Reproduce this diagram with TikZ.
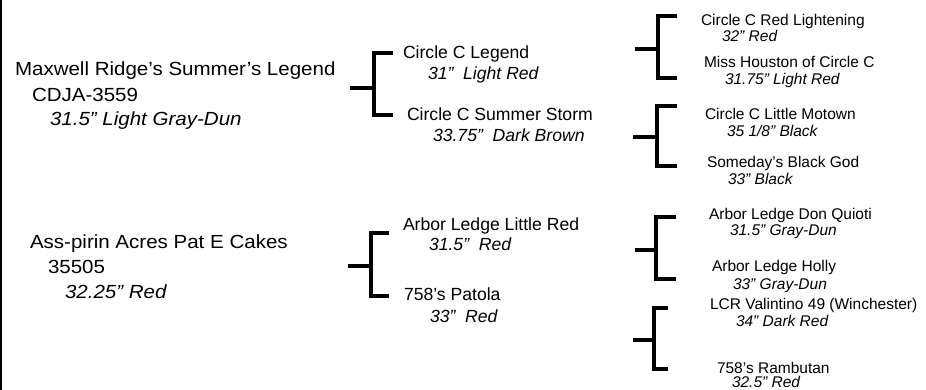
\documentclass[tikz,border=0pt]{standalone}
\usepackage{fontspec}
\setmainfont{Liberation Sans}
\newfontfamily\lfont{Liberation Sans}[FakeStretch=1.08]
\begin{document}
\begin{tikzpicture}[x=1pt,y=-1pt,
  txt/.style={anchor=base west, inner sep=0pt, outer sep=0pt},
  lname/.style={txt, font=\lfont\fontsize{19}{22}\selectfont},
  lcol/.style={txt, font=\lfont\itshape\fontsize{19}{22}\selectfont},
  mname/.style={txt, font=\fontsize{17.6}{20}\selectfont},
  mcol/.style={txt, font=\itshape\fontsize{17.6}{20}\selectfont},
  rname/.style={txt, font=\fontsize{15.5}{18}\selectfont},
  rcol/.style={txt, font=\itshape\fontsize{15.5}{18}\selectfont},
  br/.style={line width=4pt, line cap=butt, line join=miter},
  frame/.style={line width=1.6pt}]
\useasboundingbox (0,0) rectangle (926,390);
% left border
\coordinate (ftop) at (0.8,0);
\coordinate (fbot) at (0.8,390);
\draw[frame] (ftop) -- (fbot);

% generation 1
\node[lname] (a1) at (15,76) {Maxwell Ridge’s Summer’s Legend};
\node[lname] (a1r) at (32,101.5) {CDJA-3559};
\node[lcol] (a1c) at (50,126) {31.5” Light Gray-Dun};
\node[lname] (a2) at (30,248) {Ass-pirin Acres Pat E Cakes};
\node[lname] (a2r) at (48,273) {35505};
\node[lcol] (a2c) at (65,298) {32.25” Red};

% generation 2
\node[mname] (b1) at (403,59) {Circle C Legend};
\node[mcol] (b1c) at (428,80) {31"\ \ Light Red};
\node[mname] (b2) at (407,120.5) {Circle C Summer Storm};
\node[mcol] (b2c) at (433,141.5) {33.75"\ \ Dark Brown};
\node[mname] (b3) at (403,230) {Arbor Ledge Little Red};
\node[mcol] (b3c) at (429,250.5) {31.5"\ \ Red};
\node[mname] (b4) at (404,300) {758’s Patola};
\node[mcol] (b4c) at (430,322.5) {33"\ \ Red};

% generation 3
\node[rname] (c1) at (701,26) {Circle C Red Lightening};
\node[rcol] (c1c) at (722,42) {32” Red};
\node[rname] (c2) at (704,67.7) {Miss Houston of Circle C};
\node[rcol] (c2c) at (725,85) {31.75” Light Red};
\node[rname] (c3) at (705,119.3) {Circle C Little Motown};
\node[rcol] (c3c) at (727,136.5) {35 1/8” Black};
\node[rname] (c4) at (707,167.7) {Someday’s Black God};
\node[rcol] (c4c) at (728,185) {33” Black};
\node[rname] (c5) at (709,219) {Arbor Ledge Don Quioti};
\node[rcol] (c5c) at (730,235) {31.5” Gray-Dun};
\node[rname] (c6) at (712,271.7) {Arbor Ledge Holly};
\node[rcol] (c6c) at (733,289.3) {33” Gray-Dun};
\node[rname] (c7) at (710,309.3) {LCR Valintino 49 (Winchester)};
\node[rcol] (c7c) at (736,326) {34” Dark Red};
\node[rname] (c8) at (717,373.5) {758’s Rambutan};
\node[rcol] (c8c) at (732,387.8) {32.5” Red};

% bracket anchors: stub start (s), fork (f), top arm end (t), bottom arm end (u)
% a1 -> b1,b2
\coordinate (s1) at (350,88);   \coordinate (f1) at (374,88);
\coordinate (t1) at (393,53.3); \coordinate (u1) at (393,115.3);
% a2 -> b3,b4
\coordinate (s2) at (348.3,266); \coordinate (f2) at (370.5,266);
\coordinate (t2) at (389.3,233.3); \coordinate (u2) at (389.3,296);
% b1 -> c1,c2
\coordinate (s3) at (635,49.3); \coordinate (f3) at (657.5,49.3);
\coordinate (t3) at (677.3,16); \coordinate (u3) at (677.3,78);
% b2 -> c3,c4
\coordinate (s4) at (633.3,137); \coordinate (f4) at (657,137);
\coordinate (t4) at (677,105.7); \coordinate (u4) at (677,166.3);
% b3 -> c5,c6
\coordinate (s5) at (635,249.7); \coordinate (f5) at (656,249.7);
\coordinate (t5) at (676,216.7); \coordinate (u5) at (676,279);
% b4 -> c7,c8
\coordinate (s6) at (633.3,339.7); \coordinate (f6) at (654,339.7);
\coordinate (t6) at (668.3,308); \coordinate (u6) at (668.3,368.7);

\foreach \i in {1,...,6}{
  \draw[br] (s\i) -- (f\i);
  \draw[br] (t\i) -- (f\i |- t\i) -- (f\i |- u\i) -- (u\i);
}
\end{tikzpicture}
\end{document}
